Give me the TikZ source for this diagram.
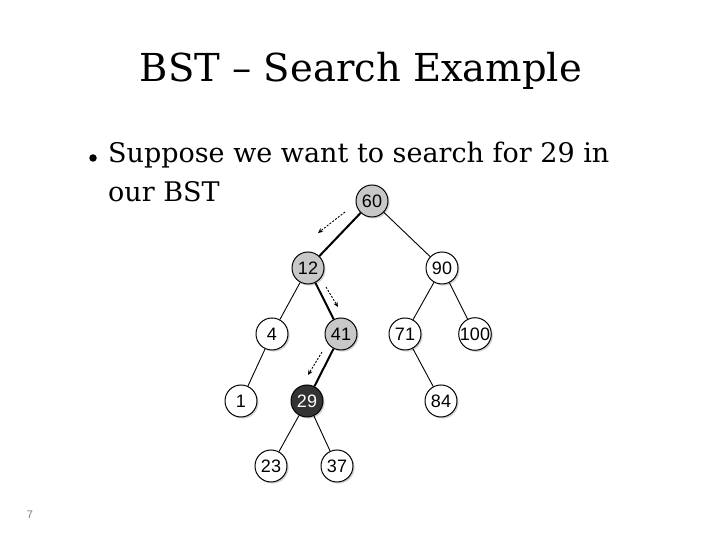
\documentclass[tikz,border=0pt]{standalone}
\usepackage{fontspec}
\setmainfont{DejaVu Serif}
\newfontfamily\keyfont{Liberation Sans}
\usepackage{tikz}
\usetikzlibrary{arrows.meta,shadows}
\definecolor{visited}{HTML}{C8C8C8}
\definecolor{target}{HTML}{333333}

\begin{document}
\begin{tikzpicture}[x=1pt, y=1pt,
  key/.style={
    circle, draw=black, fill=white, line width=1pt,
    minimum size=32pt, inner sep=0pt,
    font=\keyfont\fontsize{18}{18}\selectfont,
    drop shadow={shadow xshift=1.6pt, shadow yshift=-1.6pt, fill=black!35}
  },
  hit/.style={key, fill=visited},
  found/.style={key, fill=target, text=white},
  edge/.style={line width=0.9pt},
  walk/.style={line width=2pt},
  hint/.style={-{Stealth[length=5pt,width=4.5pt]}, dash pattern=on 2pt off 1.5pt, line width=0.9pt},
  txt/.style={font=\fontsize{27}{27}\selectfont, inner sep=0pt}
]
  \useasboundingbox (0,0) rectangle (720,540);

  % title and bullet text
  \node[font=\fontsize{38.5}{38.5}\selectfont, anchor=base, inner sep=0pt] (title) at (361,458) {BST -- Search Example};
  \node[circle, fill=black, minimum size=7.5pt, inner sep=0pt] (dot) at (93,382) {};
  \node[txt, anchor=base west] (l1) at (108,377) {Suppose we want to search for 29 in};
  \node[txt, anchor=base west] (l2) at ([yshift=-39pt]l1.base west) {our BST};
  \node[gray, font=\keyfont\fontsize{11}{11}\selectfont] (page) at (30,25) {7};

  % the tree
  \node[hit]   (n60)  at (372,339) {60};
  \node[hit]   (n12)  at (308,272) {12};
  \node[key]   (n90)  at (442,272) {90};
  \node[key]   (n4)   at (272,206) {4};
  \node[hit]   (n41)  at (341,206) {41};
  \node[key]   (n71)  at (405,206) {71};
  \node[key]   (n100) at (475,206) {100};
  \node[key]   (n1)   at (241,139) {1};
  \node[found] (n29)  at (307,139) {29};
  \node[key]   (n84)  at (441,139) {84};
  \node[key]   (n23)  at (271,74)  {23};
  \node[key]   (n37)  at (337,74)  {37};

  \draw[walk] (n60) -- (n12);
  \draw[walk] (n12) -- (n41);
  \draw[walk] (n41) -- (n29);
  \draw[edge] (n60) -- (n90);
  \draw[edge] (n12) -- (n4);
  \draw[edge] (n90) -- (n71);
  \draw[edge] (n90) -- (n100);
  \draw[edge] (n4)  -- (n1);
  \draw[edge] (n71) -- (n84);
  \draw[edge] (n29) -- (n23);
  \draw[edge] (n29) -- (n37);

  % search direction
  \coordinate (h1a) at (345,328);
  \coordinate (h1b) at (318,307);
  \coordinate (h2a) at (326,253);
  \coordinate (h2b) at (338,233);
  \coordinate (h3a) at (322,188);
  \coordinate (h3b) at (308,165);
  \draw[hint] (h1a) -- (h1b);
  \draw[hint] (h2a) -- (h2b);
  \draw[hint] (h3a) -- (h3b);
\end{tikzpicture}
\end{document}
